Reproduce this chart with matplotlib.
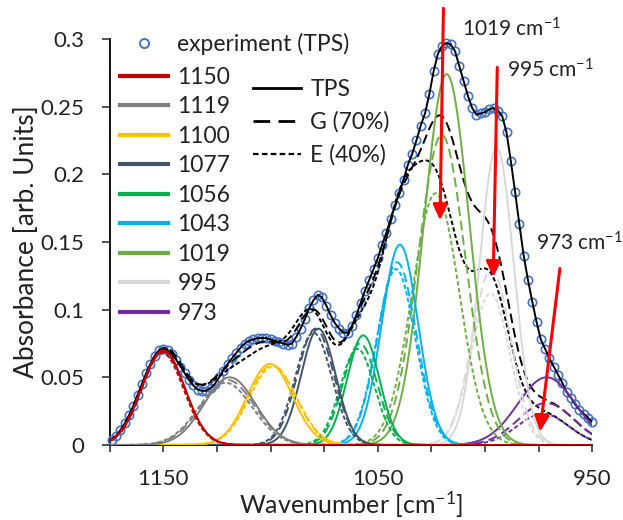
import numpy as np
import matplotlib
matplotlib.use("Agg")
import matplotlib.pyplot as plt
from matplotlib.lines import Line2D
from matplotlib.ticker import FixedLocator, FuncFormatter
from matplotlib.patches import ArrowStyle

plt.rcParams['font.family'] = ['Lato', 'DejaVu Sans']
plt.rcParams['mathtext.fontset'] = 'custom'
plt.rcParams['mathtext.rm'] = 'Lato'
plt.rcParams['mathtext.it'] = 'Lato:italic'
plt.rcParams['mathtext.default'] = 'regular'

# ---------------- data ----------------
peak_labels = ["1150", "1119", "1100", "1077", "1056", "1043", "1019", "995", "973"]
peak_colors = ["#C00000", "#7F7F7F", "#FFC000", "#44546A", "#00B050",
               "#00B0F0", "#70AD47", "#D9D9D9", "#7030A0"]

# Gaussian components (center [cm-1], height, sigma [cm-1])
tps_center = [1150.0, 1119.0, 1100.3, 1077.7, 1056.8, 1039.7, 1017.9, 994.6, 971.3]
tps_height = [0.070, 0.050, 0.060, 0.086, 0.081, 0.148, 0.274, 0.220, 0.050]
tps_sigma = [10.0, 12.0, 10.5, 8.0, 7.5, 8.5, 10.5, 8.0, 13.5]

g_center = [1150.0, 1120.0, 1099.3, 1079.0, 1058.3, 1041.0, 1020.2, 997.0, 971.5]
g_height = [0.069, 0.048, 0.059, 0.086, 0.075, 0.135, 0.229, 0.130, 0.031]
g_sigma = [10.0, 12.5, 11.0, 8.5, 8.0, 9.0, 11.0, 9.0, 13.0]

e_center = [1150.5, 1121.0, 1098.8, 1080.0, 1059.5, 1041.5, 1023.0, 997.5, 973.0]
e_height = [0.068, 0.046, 0.058, 0.083, 0.071, 0.130, 0.186, 0.112, 0.023]
e_sigma = [10.0, 12.5, 11.0, 8.5, 8.0, 9.0, 11.0, 9.0, 12.0]

# experiment (TPS), every 2 cm-1 from 1174 down to 950
exp_wavenumber = list(range(1174, 948, -2))
exp_absorbance = [
    0.004, 0.007, 0.011, 0.016, 0.022, 0.029, 0.037, 0.045, 0.053, 0.060,
    0.066, 0.070, 0.071, 0.070, 0.067, 0.063, 0.058, 0.053, 0.048, 0.044,
    0.041, 0.040, 0.040, 0.042, 0.045, 0.050, 0.055, 0.060, 0.064, 0.068,
    0.072, 0.075, 0.077, 0.078, 0.079, 0.079, 0.079, 0.078, 0.077, 0.076,
    0.075, 0.074, 0.075, 0.080, 0.086, 0.093, 0.101, 0.107, 0.111, 0.109,
    0.103, 0.096, 0.090, 0.086, 0.083, 0.083, 0.088, 0.096, 0.105, 0.114,
    0.122, 0.130, 0.138, 0.148, 0.157, 0.167, 0.177, 0.186, 0.196, 0.207,
    0.215, 0.225, 0.236, 0.245, 0.259, 0.276, 0.289, 0.295, 0.297, 0.296,
    0.291, 0.280, 0.269, 0.258, 0.249, 0.244, 0.245, 0.246, 0.248, 0.249,
    0.247, 0.243, 0.231, 0.210, 0.187, 0.163, 0.140, 0.122, 0.106, 0.091,
    0.078, 0.071, 0.064, 0.058, 0.052, 0.046, 0.039, 0.035, 0.030, 0.026,
    0.023, 0.020, 0.017,
]

sum_labels = ["TPS", "G (70%)", "E (40%)"]

arrow_labels = ["1019 cm$^{-1}$", "995 cm$^{-1}$", "973 cm$^{-1}$"]

# ---------------- figure ----------------
W, H = 623, 520
fig = plt.figure(figsize=(W / 100, H / 100), dpi=100)
ax_l, ax_r, ax_t, ax_b = 109.7, 592.3, 39.0, 445.0
ax = fig.add_axes([ax_l / W, 1 - ax_b / H, (ax_r - ax_l) / W, (ax_b - ax_t) / H])

x_lo, x_hi = 1175, 950
grid = np.linspace(x_lo, x_hi, 901)


def gauss(c, h, s):
    return h * np.exp(-(grid - c) ** 2 / (2 * s ** 2))


LONG = (0, (5, 2.5))
SHORT = (0, (2.2, 1.3))
LW = 1.4

# experiment circles
ax.plot(exp_wavenumber, exp_absorbance, ls='none', marker='o', ms=6.0,
        mfc='none', mec='#4472C4', mew=1.2, zorder=2, clip_on=False)

# TPS fit (follows the experiment) and the G / E envelopes
g_sum = sum(gauss(c, h, s) for c, h, s in zip(g_center, g_height, g_sigma))
e_sum = sum(gauss(c, h, s) for c, h, s in zip(e_center, e_height, e_sigma))
ax.plot(exp_wavenumber, exp_absorbance, color='black', lw=LW, zorder=3)
ax.plot(grid, g_sum, color='black', lw=LW, ls=LONG, zorder=3)
ax.plot(grid, e_sum, color='black', lw=LW, ls=SHORT, zorder=3)

# components (drawn last-first so 1150 ends on top)
for i in reversed(range(len(peak_labels))):
    col = peak_colors[i]
    ax.plot(grid, gauss(e_center[i], e_height[i], e_sigma[i]), color=col, lw=LW, ls=SHORT, zorder=4)
    ax.plot(grid, gauss(g_center[i], g_height[i], g_sigma[i]), color=col, lw=LW, ls=LONG, zorder=4)
    ax.plot(grid, gauss(tps_center[i], tps_height[i], tps_sigma[i]), color=col, lw=LW, zorder=4)

# axes styling
ax.set_xlim(x_lo, x_hi)
ax.set_ylim(0, 0.3)
for s in ['top', 'right']:
    ax.spines[s].set_visible(False)
for s in ['left', 'bottom']:
    ax.spines[s].set_linewidth(1.3)
    ax.spines[s].set_color('black')
    ax.spines[s].set_zorder(1)

ax.xaxis.set_major_locator(FixedLocator(np.arange(1175, 949, -25)))
ax.xaxis.set_major_formatter(FuncFormatter(lambda v, p: f"{v:.0f}" if round(v) in (1150, 1050, 950) else ""))
ax.yaxis.set_major_locator(FixedLocator(np.arange(0, 0.3001, 0.05)))
ax.yaxis.set_major_formatter(FuncFormatter(lambda v, p: f"{v:g}"))
ax.tick_params(axis='both', direction='out', width=1.2, color='#333333',
               labelsize=16, labelcolor='#222222', pad=12)
ax.tick_params(axis='x', length=5)
ax.tick_params(axis='y', length=6)

ax.set_xlabel("Wavenumber [cm$^{-1}$]", fontsize=18, color='#222222', labelpad=0.5)
ax.set_ylabel("Absorbance [arb. Units]", fontsize=19, color='#222222', labelpad=1)

# arrows (start -> tip), in data coordinates
arrow_start = [(1019.4, 0.3227), (994.3, 0.279), (965.1, 0.1305)]
arrow_tip = [(1021.0, 0.166), (996.2, 0.124), (974.4, 0.0098)]
astyle = ArrowStyle("-|>", head_length=0.47, head_width=0.22)
for st, tp in zip(arrow_start, arrow_tip):
    ax.annotate("", xy=tp, xytext=st,
                arrowprops=dict(arrowstyle=astyle, color='#FF0000', lw=2.2,
                                mutation_scale=20, shrinkA=0, shrinkB=0),
                annotation_clip=False, zorder=6)

text_pos = [(1010.9, 0.3075), (989.9, 0.277), (976.4, 0.149)]
for lab, (tx, ty) in zip(arrow_labels, text_pos):
    ax.text(tx, ty, lab, fontsize=15, color='#222222', ha='left', va='center',
            clip_on=False, zorder=7)

# legends
leg_kw = dict(frameon=False, borderpad=0, borderaxespad=0, fontsize=16.5,
              handletextpad=0.4, handlelength=2.1, labelcolor='#222222')


def anchor(px, py):
    return ((px - ax_l) / (ax_r - ax_l), (ax_b - py) / (ax_b - ax_t))


h_exp = [Line2D([], [], ls='none', marker='o', ms=6.5, mfc='none', mec='#4472C4', mew=1.4)]
leg1 = ax.legend(h_exp, ["experiment (TPS)"], loc='upper left',
                 bbox_to_anchor=anchor(120, 33), **leg_kw)
ax.add_artist(leg1)

h_comp = [Line2D([], [], color=c, lw=3) for c in peak_colors]
leg2 = ax.legend(h_comp, peak_labels, loc='upper left', labelspacing=0.37,
                 bbox_to_anchor=anchor(120, 67), **leg_kw)
ax.add_artist(leg2)

h_sum = [Line2D([], [], color='black', lw=2),
         Line2D([], [], color='black', lw=2, ls=(0, (6, 3))),
         Line2D([], [], color='black', lw=1.6, ls=(0, (2.5, 1.5)))]
leg3 = ax.legend(h_sum, sum_labels, loc='upper left', labelspacing=0.5,
                 bbox_to_anchor=anchor(253, 79), **leg_kw)

fig.savefig("out.png", dpi=100)
